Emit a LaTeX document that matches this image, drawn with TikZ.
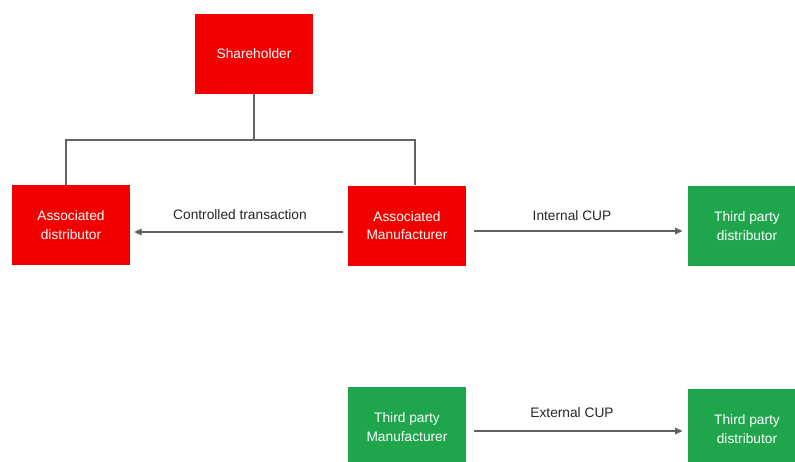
\documentclass[tikz,border=0pt]{standalone}
\usepackage{fontspec}
\setmainfont{Liberation Sans}
\usetikzlibrary{arrows.meta}
\definecolor{entred}{HTML}{F20000}
\definecolor{entgreen}{HTML}{1FA64C}
\definecolor{linkgray}{HTML}{5F6266}
\tikzset{
  entity/.style={minimum width=88.5pt, minimum height=60pt, inner sep=0pt,
    text=white, align=center, font=\fontsize{10.3}{14}\selectfont},
  related/.style={entity, fill=entred},
  independent/.style={entity, fill=entgreen},
  link/.style={draw=linkgray, line width=0.8pt},
  flow/.style={link, -{Triangle[length=5.5pt,width=5pt]}},
  flowlabel/.style={font=\fontsize{10.3}{12}\selectfont, text=black!85}
}
\begin{document}
\begin{tikzpicture}[x=0.75pt, y=-0.75pt]
\useasboundingbox (0,0) rectangle (795,461);
\clip (0,0) rectangle (795,461);
\fill[white] (0,0) rectangle (795,461);

% entities
\node[related] (sh) at (254,54) {Shareholder};
\node[related] (ad) at (71,225) {Associated\\distributor};
\node[related] (am) at (407,225.5) {Associated\\Manufacturer};
\node[independent] (td1) at (747,226) {Third party\\distributor};
\node[independent] (tm) at (407,427) {Third party\\Manufacturer};
\node[independent] (td2) at (747,429) {Third party\\distributor};

% ownership tree
\coordinate (bus) at (254,140);
\draw[link] (sh.south) -- (bus);
\draw[link] (ad.north -| 66,0) |- (bus) -| (am.north -| 415,0);

% transactions
\coordinate (cs) at (343,232);
\draw[flow] (cs) -- ([xshift=3pt]ad.east |- cs);
\node[flowlabel] (ctl) at (240,215) {Controlled transaction};

\coordinate (is) at (474,231);
\draw[flow] (is) -- ([xshift=-4pt]td1.west |- is);
\node[flowlabel] (icup) at (572,216) {Internal CUP};

\coordinate (es) at (474,431);
\draw[flow] (es) -- ([xshift=-4pt]td2.west |- es);
\node[flowlabel] (ecup) at (572,413) {External CUP};
\end{tikzpicture}
\end{document}
